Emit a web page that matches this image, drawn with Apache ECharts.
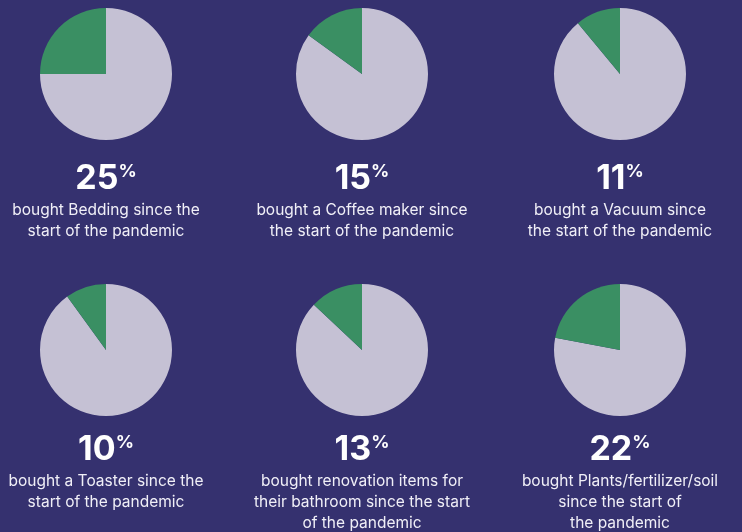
<!DOCTYPE html>
<html>
<head>
<meta charset="utf-8">
<script src="https://cdn.jsdelivr.net/npm/echarts@6/dist/echarts.min.js"></script>
<style>
html,body{margin:0;padding:0;background:#35316f;}
#c{width:742px;height:532px;}
</style>
</head>
<body>
<div id="c"></div>
<script>
const categories = ['Bedding', 'Coffee maker', 'Vacuum', 'Toaster', 'Bathroom renovation items', 'Plants/fertilizer/soil'];
const values = [25, 15, 11, 10, 13, 22];
const descriptions = [
  'bought Bedding since the\nstart of the pandemic',
  'bought a Coffee maker since\nthe start of the pandemic',
  'bought a Vacuum since\nthe start of the pandemic',
  'bought a Toaster since the\nstart of the pandemic',
  'bought renovation items for\ntheir bathroom since the start\nof the pandemic',
  'bought Plants/fertilizer/soil\nsince the start of\nthe pandemic'
];

const colX = [106, 362, 620];
const rowPieY = [74, 350];
const rowNumY = [162, 433];
const rowDescY = [200, 471];
const BG = '#35316f', REST = '#c5c1d4', GREEN = '#3a8f63', TEXT = '#f0eff7';

const series = [];
const graphic = [];
values.forEach((v, i) => {
  const col = i % 3, row = Math.floor(i / 3);
  series.push({
    type: 'pie',
    center: [colX[col], rowPieY[row]],
    radius: 66,
    startAngle: 90,
    clockwise: true,
    silent: true,
    label: {show: false},
    labelLine: {show: false},
    itemStyle: {borderWidth: 0},
    data: [
      {value: 100 - v, name: 'Other', itemStyle: {color: REST}},
      {value: v, name: categories[i], itemStyle: {color: GREEN}}
    ]
  });
  graphic.push({
    type: 'text',
    x: colX[col], y: rowNumY[row],
    style: {
      text: '{n|' + v + '}{p|%}',
      align: 'center', verticalAlign: 'top',
      fill: '#ffffff',
      rich: {
        n: {fontSize: 34, fontWeight: 'bold', fontFamily: 'Inter', fill: '#ffffff', lineHeight: 34},
        p: {fontSize: 18, fontWeight: 'bold', fontFamily: 'Inter', fill: '#ffffff', verticalAlign: 'top', lineHeight: 18, padding: [1, 0, 0, 0]}
      }
    }
  });
  graphic.push({
    type: 'text',
    x: colX[col], y: rowDescY[row],
    style: {
      text: descriptions[i],
      align: 'center', verticalAlign: 'top',
      fill: TEXT,
      fontSize: 15.5, fontFamily: 'Inter', lineHeight: 21
    }
  });
});

const chart = echarts.init(document.getElementById('c'));
chart.setOption({
  backgroundColor: BG,
  animation: false,
  series: series,
  graphic: graphic
});
</script>
</body>
</html>
